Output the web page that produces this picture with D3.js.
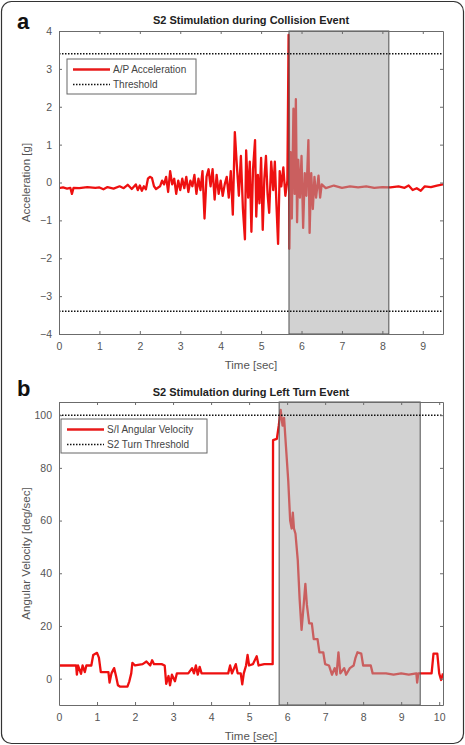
<!DOCTYPE html>
<html>
<head>
<meta charset="utf-8">
<script src="https://cdn.jsdelivr.net/npm/d3@7"></script>
<style>
  body { margin: 0; background: #fff; }
  svg text { font-family: "Liberation Sans", Arial, sans-serif; }
</style>
</head>
<body>
<div id="chart"></div>
<script>
// panel a : A/P acceleration during collision
var timeA = [0.00,0.10,0.20,0.28,0.32,0.36,0.50,0.70,0.90,1.00,1.10,1.20,1.35,1.50,1.60,1.70,1.80,1.90,1.95,2.00,
  2.05,2.10,2.15,2.20,2.25,2.30,2.35,2.40,2.50,2.55,2.60,2.65,2.70,2.75,2.80,2.85,2.90,2.95,3.00,3.05,
  3.10,3.15,3.20,3.25,3.30,3.35,3.40,3.45,3.50,3.55,3.60,3.65,3.70,3.75,3.80,3.85,3.90,3.95,4.00,4.05,
  4.10,4.15,4.20,4.25,4.30,4.35,4.40,4.45,4.50,4.55,4.60,4.63,4.68,4.72,4.76,4.80,4.85,4.88,4.92,4.96,
  5.00,5.04,5.08,5.12,5.16,5.20,5.25,5.30,5.34,5.38,5.42,5.46,5.50,5.55,5.60,5.65,5.68,5.70,5.73,5.76,
  5.80,5.83,5.86,5.89,5.92,5.96,6.00,6.04,6.08,6.12,6.17,6.20,6.24,6.28,6.32,6.36,6.42,6.46,6.50,6.60,
  6.80,7.00,7.20,7.40,7.60,7.80,8.00,8.20,8.40,8.55,8.65,8.75,8.85,8.95,9.05,9.20,9.35,9.50];
var accelA = [-0.15,-0.13,-0.16,-0.14,-0.30,-0.14,-0.15,-0.12,-0.14,-0.13,-0.18,-0.12,-0.16,-0.10,-0.15,-0.06,-0.17,-0.05,-0.20,-0.08,
  -0.22,-0.10,-0.18,0.10,0.15,0.12,-0.10,-0.17,-0.10,0.05,-0.05,0.15,-0.25,0.30,-0.05,0.10,-0.30,0.05,-0.20,0.10,
  -0.15,0.15,-0.25,0.05,-0.10,0.20,-0.30,0.10,-0.20,0.30,-0.95,0.15,0.35,-0.10,0.35,-0.45,0.20,-0.30,0.05,-0.35,
  -0.05,0.15,-0.40,0.30,-0.85,1.33,0.45,-0.35,0.70,-0.70,-1.50,0.85,-0.40,0.55,-1.30,0.35,1.12,-0.90,0.20,-0.55,
  0.65,-1.25,0.10,0.70,-0.30,-0.80,0.55,-0.20,0.55,-0.60,-1.62,0.30,-0.10,0.40,-0.35,0.05,3.90,-1.75,0.80,-0.95,
  1.95,-0.30,2.20,-1.05,0.60,-0.40,0.70,-1.20,0.25,-0.35,1.12,-1.33,0.25,-0.70,0.15,-0.40,0.18,-0.40,-0.05,-0.15,
  -0.08,-0.14,-0.10,-0.13,-0.10,-0.14,-0.12,-0.13,-0.10,-0.14,-0.08,-0.20,-0.15,-0.22,-0.10,-0.12,-0.08,-0.05];
var thresholdA = 3.4;
var shadeA = [5.69, 8.16];
var xTicksA = [0,1,2,3,4,5,6,7,8,9];
var yTicksA = [-4,-3,-2,-1,0,1,2,3,4];

// panel b : S/I angular velocity during left turn
var timeB = [0.00,0.45,0.47,0.50,0.58,0.62,0.68,0.72,0.85,0.90,1.00,1.05,1.10,1.30,1.33,1.38,1.45,1.50,1.55,1.60,
  1.80,1.85,1.90,1.93,2.00,2.20,2.30,2.40,2.45,2.50,2.70,2.78,2.82,2.88,2.92,2.97,3.05,3.10,3.40,3.50,
  3.55,3.60,3.65,3.70,3.75,3.85,4.20,4.45,4.50,4.55,4.65,4.70,4.78,4.82,4.86,4.92,4.96,5.00,5.10,5.20,
  5.25,5.40,5.62,5.63,5.73,5.78,5.83,5.88,5.92,5.97,6.03,6.08,6.12,6.15,6.18,6.22,6.28,6.33,6.38,6.43,
  6.48,6.52,6.58,6.65,6.70,6.80,6.85,6.95,7.00,7.10,7.18,7.25,7.30,7.35,7.40,7.50,7.55,7.65,7.75,7.80,
  7.85,7.95,8.00,8.20,8.25,8.60,8.80,9.00,9.20,9.40,9.42,9.45,9.80,9.85,9.95,10.00,10.05,10.10];
var angVelB = [5,5,1.5,5,1.8,5,2.5,5,5,9,9.8,8,2.5,2.5,-1.5,2,4,1,-2.5,-3,
  -3,-1,2,6,5,5.5,6.5,5,7,5.5,5.5,5,-2,1,-2.5,1.5,-1,2,2,4,
  2,5,1.5,4.5,2,2,2,2,5,2,5.5,2,2,-2.2,2,5,9,5,5.5,8.5,
  5,5.5,5.5,90.5,91,96,102,96,99,88,75,60,57,63,57,55,45,30,18.5,27,
  36,28,21,21,15,15,10,10,5.5,5,1.5,4,1.5,10,2,4,1.5,4,5,8,
  10,9.5,5,5,2,2,1.5,2,1.5,2,-1.5,2,2,9.5,9.5,2,-0.5,2];
var thresholdB = 100;
var shadeB = [5.79, 9.5];
var xTicksB = [0,1,2,3,4,5,6,7,8,9,10];
var yTicksB = [0,20,40,60,80,100];

var w = 465, h = 745;
var svg = d3.select("#chart").append("svg")
  .attr("width", w)
  .attr("height", h);

// rounded frame around the figure
svg.append("rect")
  .attr("x", 1.5).attr("y", 1.5)
  .attr("width", w - 3).attr("height", h - 3)
  .attr("rx", 10)
  .attr("fill", "none")
  .attr("stroke", "#333")
  .attr("stroke-width", 1.2);

drawPanel({
  id: "a", letter: "a", letterY: 29,
  title: "S2 Stimulation during Collision Event", titleY: 24,
  left: 59, right: 443, top: 31, bottom: 334,
  xDomain: [0, 9.5], yDomain: [-4, 4],
  xTicks: xTicksA, yTicks: yTicksA,
  t: timeA, v: accelA,
  thresholds: [thresholdA, -thresholdA],
  shade: shadeA,
  yLabel: "Acceleration [g]",
  legend: { x: 67, y: 59, w: 129, h: 35, names: ["A/P Acceleration", "Threshold"] }
});

drawPanel({
  id: "b", letter: "b", letterY: 396,
  title: "S2 Stimulation during Left Turn Event", titleY: 396,
  left: 59, right: 443, top: 402, bottom: 705,
  xDomain: [0, 10.1], yDomain: [-10, 105],
  xTicks: xTicksB, yTicks: yTicksB,
  t: timeB, v: angVelB,
  thresholds: [thresholdB],
  shade: shadeB,
  yLabel: "Angular Velocity [deg/sec]",
  legend: { x: 61, y: 419, w: 146, h: 34, names: ["S/I Angular Velocity", "S2 Turn Threshold"] }
});

function drawPanel(c) {
  var x = d3.scaleLinear().domain(c.xDomain).range([c.left, c.right]);
  var y = d3.scaleLinear().domain(c.yDomain).range([c.bottom, c.top]);
  var axisColor = "#6b6b6b";
  var textColor = "#555";

  var g = svg.append("g").attr("class", "panel-" + c.id);

  // panel letter
  g.append("text")
    .attr("x", 17).attr("y", c.letterY)
    .attr("font-size", "22px")
    .attr("font-weight", "bold")
    .attr("fill", "#111")
    .text(c.letter);

  // title
  g.append("text")
    .attr("x", (c.left + c.right) / 2).attr("y", c.titleY)
    .attr("text-anchor", "middle")
    .attr("font-size", "11px")
    .attr("font-weight", "bold")
    .attr("fill", "#222")
    .text(c.title);

  g.append("clipPath").attr("id", "clip-" + c.id)
    .append("rect")
    .attr("x", c.left).attr("y", c.top)
    .attr("width", c.right - c.left).attr("height", c.bottom - c.top);

  var pts = c.t.map(function(d, i) { return [d, c.v[i]]; });
  var line = d3.line()
    .x(function(d) { return x(d[0]); })
    .y(function(d) { return y(d[1]); });

  g.append("path")
    .datum(pts)
    .attr("clip-path", "url(#clip-" + c.id + ")")
    .attr("d", line)
    .attr("fill", "none")
    .attr("stroke", "#ee1010")
    .attr("stroke-width", 2.3)
    .attr("stroke-linejoin", "round");

  // shaded stimulation window, drawn over the signal
  g.append("rect")
    .attr("x", x(c.shade[0])).attr("y", c.top)
    .attr("width", x(c.shade[1]) - x(c.shade[0]))
    .attr("height", c.bottom - c.top)
    .attr("fill", "#a9a9a9")
    .attr("fill-opacity", 0.52)
    .attr("stroke", "#505050")
    .attr("stroke-width", 1);

  // thresholds
  c.thresholds.forEach(function(th) {
    g.append("line")
      .attr("x1", c.left).attr("x2", c.right)
      .attr("y1", y(th)).attr("y2", y(th))
      .attr("stroke", "#111")
      .attr("stroke-width", 1.5)
      .attr("stroke-dasharray", "1.5,1.5");
  });

  // axes (MATLAB style box, ticks inside)
  var bottomAxis = d3.axisBottom(x).tickValues(c.xTicks).tickSizeInner(-3).tickSizeOuter(0).tickPadding(9);
  var leftAxis = d3.axisLeft(y).tickValues(c.yTicks).tickSizeInner(-3).tickSizeOuter(0).tickPadding(7);
  var topAxis = d3.axisTop(x).tickValues(c.xTicks).tickSizeInner(-3).tickSizeOuter(0).tickFormat("");
  var rightAxis = d3.axisRight(y).tickValues(c.yTicks).tickSizeInner(-3).tickSizeOuter(0).tickFormat("");

  var axes = [
    g.append("g").attr("transform", "translate(0," + c.bottom + ")").call(bottomAxis),
    g.append("g").attr("transform", "translate(" + c.left + ",0)").call(leftAxis),
    g.append("g").attr("transform", "translate(0," + c.top + ")").call(topAxis),
    g.append("g").attr("transform", "translate(" + c.right + ",0)").call(rightAxis)
  ];
  axes.forEach(function(a) {
    a.select(".domain").attr("stroke", axisColor);
    a.selectAll(".tick line").attr("stroke", axisColor);
    a.selectAll(".tick text")
      .attr("fill", textColor)
      .attr("font-size", "10.5px")
      .attr("font-family", "Liberation Sans, Arial, sans-serif");
  });

  // axis titles
  g.append("text")
    .attr("x", (c.left + c.right) / 2).attr("y", c.bottom + 35)
    .attr("text-anchor", "middle")
    .attr("font-size", "11.5px")
    .attr("fill", textColor)
    .text("Time [sec]");

  g.append("text")
    .attr("transform", "translate(30," + (c.top + c.bottom) / 2 + ") rotate(-90)")
    .attr("text-anchor", "middle")
    .attr("font-size", "11.5px")
    .attr("fill", textColor)
    .text(c.yLabel);

  // legend
  var L = c.legend;
  var lg = g.append("g").attr("class", "legend");
  lg.append("rect")
    .attr("x", L.x).attr("y", L.y)
    .attr("width", L.w).attr("height", L.h)
    .attr("fill", "#fff")
    .attr("stroke", "#666")
    .attr("stroke-width", 1);
  L.names.forEach(function(name, i) {
    var ly = L.y + 10.5 + i * 15;
    lg.append("line")
      .attr("x1", L.x + 6).attr("x2", L.x + 43)
      .attr("y1", ly).attr("y2", ly)
      .attr("stroke", i === 0 ? "#e81a1a" : "#111")
      .attr("stroke-width", i === 0 ? 2.5 : 1.5)
      .attr("stroke-dasharray", i === 0 ? null : "1.5,1.5");
    lg.append("text")
      .attr("x", L.x + 46).attr("y", ly + 3.5)
      .attr("font-size", "10px")
      .attr("fill", "#444")
      .text(name);
  });
}
</script>
</body>
</html>
